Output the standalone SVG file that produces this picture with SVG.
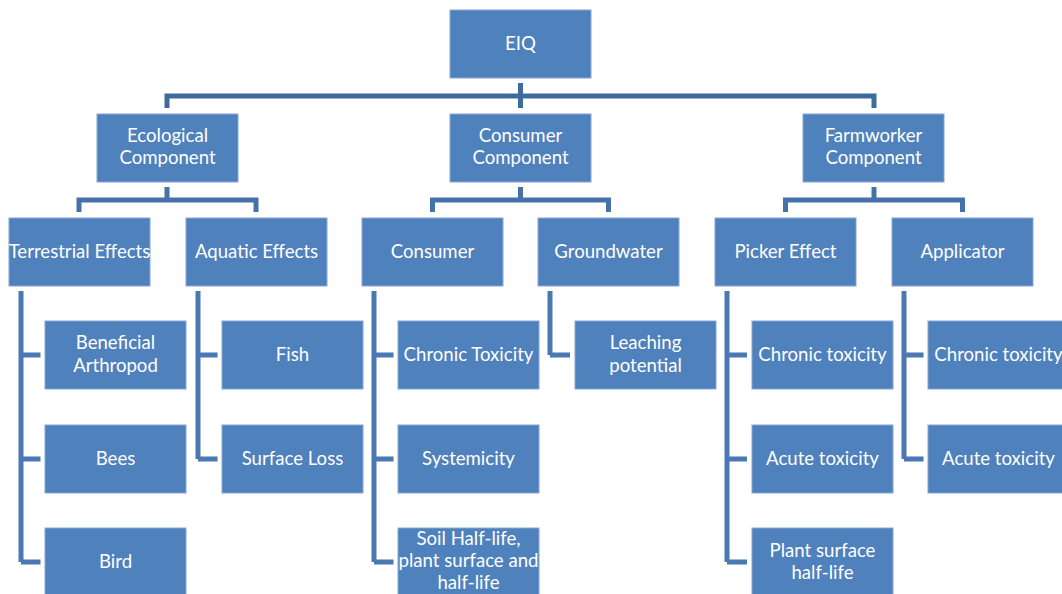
<svg xmlns="http://www.w3.org/2000/svg" width="1062" height="594" viewBox="0 0 1062 594">
<style>
.box{fill:#4F81BD;stroke:#86A7D4;stroke-width:1}
.t{font-family:Lato,"Liberation Sans",sans-serif;font-size:18.6px;fill:#ffffff;text-anchor:middle}
.c0{fill:none;stroke:#3F6A9D;stroke-width:5}
.c1{fill:none;stroke:#4572A9;stroke-width:5}
.c2{fill:none;stroke:#4A78B2;stroke-width:5}
</style>
<rect width="1062" height="594" fill="#ffffff"/>
<g id="connectors">
<path class="c0" d="M520.5,83V108M167,108V96H874V108"/>
<path class="c1" d="M167,187V200M79,212V200H256V212"/>
<path class="c1" d="M520.5,187V200M432.5,212V200H608.5V212"/>
<path class="c1" d="M874,187V200M785.5,212V200H962.5V212"/>
<path class="c2" d="M21,291V562M21,355H40.5M21,459H40.5M21,562H40.5"/>
<path class="c2" d="M198,291V459M198,355H217.5M198,459H217.5"/>
<path class="c2" d="M374,291V562M374,355H393.5M374,459H393.5M374,562H393.5"/>
<path class="c2" d="M550,291V355M550,355H570"/>
<path class="c2" d="M727,291V562M727,355H747M727,459H747M727,562H747"/>
<path class="c2" d="M904,291V459M904,355H923.5M904,459H923.5"/>
</g>
<g id="eiq"><rect class="box" x="450" y="10" width="141" height="68"/><text class="t" x="520.5" y="50">EIQ</text></g>
<g id="ecological"><rect class="box" x="97" y="114" width="141" height="68"/><text class="t" x="167.5" y="142">Ecological</text><text class="t" x="167.5" y="164">Component</text></g>
<g id="consumer-component"><rect class="box" x="450" y="114" width="141" height="68"/><text class="t" x="520.5" y="142">Consumer</text><text class="t" x="520.5" y="164">Component</text></g>
<g id="farmworker"><rect class="box" x="803" y="114" width="141" height="68"/><text class="t" x="873.5" y="142">Farmworker</text><text class="t" x="873.5" y="164">Component</text></g>
<g id="terrestrial"><rect class="box" x="9" y="218" width="141" height="68"/><text class="t" x="79.5" y="257.5">Terrestrial Effects</text></g>
<g id="aquatic"><rect class="box" x="186" y="218" width="141" height="68"/><text class="t" x="256.5" y="257.5">Aquatic Effects</text></g>
<g id="consumer"><rect class="box" x="362" y="218" width="141" height="68"/><text class="t" x="432.5" y="257.5">Consumer</text></g>
<g id="groundwater"><rect class="box" x="538" y="218" width="141" height="68"/><text class="t" x="608.5" y="257.5">Groundwater</text></g>
<g id="picker"><rect class="box" x="715" y="218" width="141" height="68"/><text class="t" x="785.5" y="257.5">Picker Effect</text></g>
<g id="applicator"><rect class="box" x="892" y="218" width="141" height="68"/><text class="t" x="962.5" y="257.5">Applicator</text></g>
<g id="beneficial"><rect class="box" x="45" y="321" width="141" height="68"/><text class="t" x="115.5" y="348.5">Beneficial</text><text class="t" x="115.5" y="371.5">Arthropod</text></g>
<g id="bees"><rect class="box" x="45" y="425" width="141" height="68"/><text class="t" x="115.5" y="464.5">Bees</text></g>
<g id="bird"><rect class="box" x="45" y="528" width="141" height="68"/><text class="t" x="115.5" y="567.5">Bird</text></g>
<g id="fish"><rect class="box" x="222" y="321" width="141" height="68"/><text class="t" x="292.5" y="360.5">Fish</text></g>
<g id="surface-loss"><rect class="box" x="222" y="425" width="141" height="68"/><text class="t" x="292.5" y="464.5">Surface Loss</text></g>
<g id="consumer-chronic"><rect class="box" x="398" y="321" width="141" height="68"/><text class="t" x="468.5" y="360.5">Chronic Toxicity</text></g>
<g id="systemicity"><rect class="box" x="398" y="425" width="141" height="68"/><text class="t" x="468.5" y="464.5">Systemicity</text></g>
<g id="soil-half-life"><rect class="box" x="398" y="528" width="141" height="68"/><text class="t" x="468.5" y="544.5">Soil Half-life,</text><text class="t" x="468.5" y="566.5">plant surface and</text><text class="t" x="468.5" y="588.5">half-life</text></g>
<g id="leaching"><rect class="box" x="575" y="321" width="141" height="68"/><text class="t" x="645.5" y="348.5">Leaching</text><text class="t" x="645.5" y="371.5">potential</text></g>
<g id="picker-chronic"><rect class="box" x="752" y="321" width="141" height="68"/><text class="t" x="822.5" y="360.5">Chronic toxicity</text></g>
<g id="picker-acute"><rect class="box" x="752" y="425" width="141" height="68"/><text class="t" x="822.5" y="464.5">Acute toxicity</text></g>
<g id="plant-surface"><rect class="box" x="752" y="528" width="141" height="68"/><text class="t" x="822.5" y="556.5">Plant surface</text><text class="t" x="822.5" y="578.5">half-life</text></g>
<g id="applicator-chronic"><rect class="box" x="928" y="321" width="141" height="68"/><text class="t" x="998.5" y="360.5">Chronic toxicity</text></g>
<g id="applicator-acute"><rect class="box" x="928" y="425" width="141" height="68"/><text class="t" x="998.5" y="464.5">Acute toxicity</text></g>
</svg>
